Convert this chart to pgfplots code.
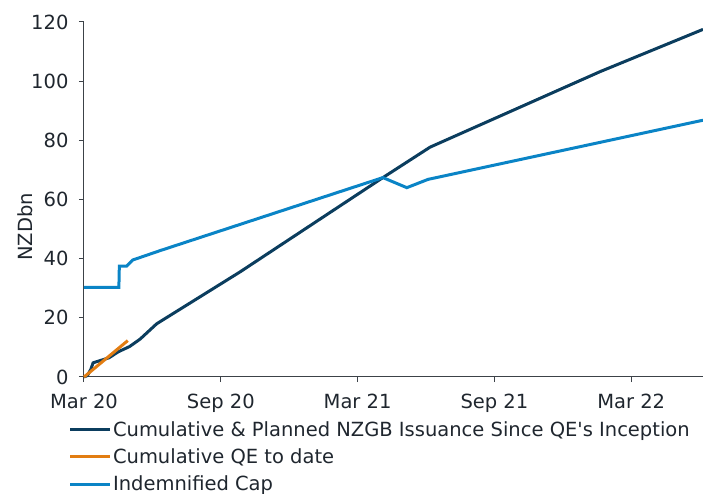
\documentclass[border=0pt]{standalone}
\usepackage{fontspec}
\setmainfont{DejaVu Sans}[Ligatures=TeXOff]
\usepackage{pgfplots}
\pgfplotsset{compat=1.18}
\definecolor{navy}{RGB}{11,61,94}
\definecolor{qeorange}{RGB}{226,125,18}
\definecolor{capblue}{RGB}{10,132,198}
\definecolor{txt}{RGB}{31,38,46}
\definecolor{axc}{RGB}{60,66,72}
\begin{document}
\begin{tikzpicture}[font=\fontsize{19.5}{23}\selectfont, text=txt]
\begin{axis}[
  at={(0,0)}, anchor=south west,
  scale only axis, width=619pt, height=355pt,
  xmin=0, xmax=27.15, ymin=0, ymax=120,
  axis x line*=bottom, axis y line*=left,
  axis line style={-, axc, line width=1pt},
  every outer x axis line/.append style={-},
  every outer y axis line/.append style={-},
  xtick={0,6,12,18,24},
  xticklabels={Mar 20, Sep 20, Mar 21, Sep 21, Mar 22},
  ytick={0,20,...,120},
  tick align=outside, major tick length=5pt,
  tick style={axc, line width=1pt},
  /pgf/number format/assume math mode=true,
  yticklabel style={xshift=-7pt},
  xticklabel style={yshift=-8pt},
  ylabel={NZDbn},
  ylabel style={at={(axis description cs:-0.0953,0.4225)}, anchor=center},
  clip=false,
  legend cell align=left,
  legend style={at={(axis description cs:-0.0250,-0.1155)}, anchor=north west,
    draw=none, fill=none, inner sep=0pt, outer sep=0pt,
    nodes={inner xsep=1.5pt, inner ysep=0pt},
    row sep=7.6pt, font=\fontsize{19.5}{23}\selectfont},
  legend image code/.code={\path (0pt,10pt); \draw[#1, line width=3pt] (0pt,0pt) -- (40pt,0pt);},
]
\addplot[navy, line width=3pt] coordinates {
(0,0) (0.15,0.5) (0.3,2.6) (0.4,4.8) (1.1,6.5) (1.5,8.5) (2.0,10.3) (2.46,12.8) (3.19,18) (6.84,35.5) (10.79,55.6) (13.11,67.4) (15.18,77.7) (22.63,103.2) (27.15,117.5)
};
\addlegendentry{Cumulative \& Planned NZGB Issuance Since QE's Inception}
\addplot[qeorange, line width=3pt] coordinates {
(0,0) (1.92,12.3)
};
\addlegendentry{Cumulative QE to date}
\addplot[capblue, line width=3pt] coordinates {
(0,30.3) (1.53,30.3) (1.55,37.5) (1.87,37.5) (2.15,39.6) (2.46,40.4) (3.33,42.7) (13.11,67.4) (14.16,64) (15.09,66.8) (27.15,86.8)
};
\addlegendentry{Indemnified Cap}
\end{axis}
\pgfresetboundingbox
\path[use as bounding box] (-84pt,-117pt) rectangle (619pt,377pt);
\end{tikzpicture}
\end{document}
